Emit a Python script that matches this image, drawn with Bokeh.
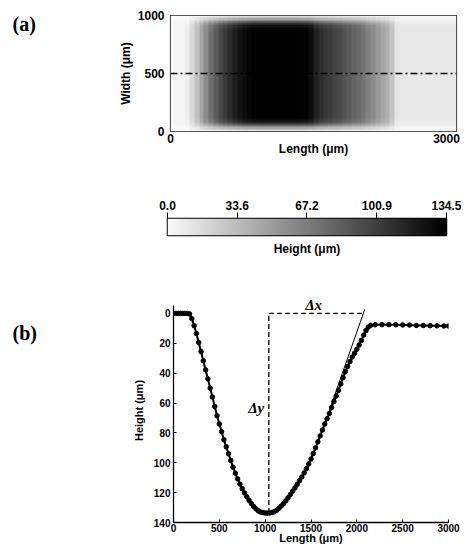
import numpy as np
from bokeh.plotting import figure
from bokeh.layouts import column, row
from bokeh.models import (Range1d, FixedTicker, LinearColorMapper, Label,
                          LinearAxis, NumeralTickFormatter)
from bokeh.palettes import Greys256
from bokeh.embed import file_html
from bokeh.resources import INLINE

# ---------------- data ----------------
# (a) height map: column darkness (height, um) every 50 um along length
map_col_start_um = list(range(0, 3000, 50))
map_col_height = [3, 3, 3, 6, 18, 31, 46, 60, 74, 85,
                  95, 103, 111, 118, 124, 128, 131, 133, 134, 134.5,
                  134.5, 134.5, 134.5, 134.5, 134.5, 134.5, 134, 133.5, 133, 128,
                  117, 110, 106, 102, 98, 95, 89, 86, 81, 78,
                  72, 65, 60, 53, 46, 40, 29, 12, 10, 10,
                  10, 10, 10, 10, 10, 10, 10, 10, 10, 10]
# relative depth across the width (rows of 20 um, bottom to top)
map_row_factor = ([0.12, 0.35, 0.6, 0.8, 0.93, 0.98] + [1.0] * 38 +
                  [0.98, 0.93, 0.8, 0.6, 0.35, 0.12])
map_length_um = 3000
map_width_um = 1000
centre_len = [0, 3000]
centre_w = [500, 500]
map_xticks = [0, 3000]
map_yticks = [0, 500, 1000]

# colour bar
height_min = 0.0
height_max = 134.5
cbar_ticks = [0.0, 33.6, 67.2, 100.9, 134.5]

# (b) centre-line profile
profile_len = [0, 25, 50, 75, 100, 125, 150, 175,
               200, 225, 250, 275, 300, 325, 350, 375, 400, 425,
               450, 475, 500, 525, 550, 575, 600, 625, 650, 675,
               700, 725, 750, 775, 800, 825, 850, 875, 900, 925,
               950, 975, 1000, 1025, 1050, 1075, 1100, 1125, 1150, 1175,
               1200, 1225, 1250, 1275, 1300, 1325, 1350, 1375, 1400, 1425,
               1450, 1475, 1500, 1525, 1550, 1575, 1600, 1625, 1650, 1675,
               1700, 1725, 1750, 1775, 1800, 1825, 1850, 1875, 1900, 1925,
               1950, 1975, 2000, 2025, 2050, 2075, 2100, 2125, 2150,
               2200, 2275, 2350, 2425, 2500, 2575, 2650, 2725, 2800, 2875, 2950, 3000]
profile_h = [0, 0, 0, 0, 0, 0, 0, 0.3,
             3.5, 8.2, 13.5, 19.5, 25.5, 31.7, 37.8, 43.8, 50, 56,
             62.3, 68.5, 74, 79.2, 84.6, 89.3, 94, 98.4, 103, 107,
             110.8, 114.3, 117.4, 120.2, 122.8, 125.2, 127.4, 129.3, 130.9, 132.2,
             133.0, 133.4, 133.6, 133.7, 133.6, 133.3, 132.7, 131.8, 130.5, 129.0,
             127.4, 125.5, 123.4, 121.2, 119, 116.8, 114.4, 112, 109.5, 106.8,
             104, 100.8, 97.4, 93.8, 90, 86, 82, 78, 74, 70.5,
             67, 63, 59, 55.3, 51.5, 47.2, 43, 39, 35.5, 32.2,
             29.2, 26.6, 24, 21.2, 18, 14.5, 11.5, 9.2, 8.0,
             7.6, 7.5, 7.5, 7.6, 7.7, 7.8, 8.0, 8.1, 8.2, 8.3, 8.4, 8.4]
dy_len = [1040, 1040]
dy_h = [133.6, 0]
dx_len = [1040, 2085]
dx_h = [0, 0]
tan_len = [1700, 2085]
tan_h = [65, -2.5]
prof_xticks = [0, 500, 1000, 1500, 2000, 2500, 3000]
prof_yticks = [0, 20, 40, 60, 80, 100, 120, 140]

# ---------------- styling ----------------
SANS = "Liberation Sans"
SERIF = "Liberation Serif"
palette = list(reversed(Greys256))[5:]
mapper = LinearColorMapper(palette=palette, low=height_min, high=height_max)


def style_axis(ax, tick_size, label_size):
    ax.major_label_text_font = SANS
    ax.major_label_text_font_style = "bold"
    ax.major_label_text_font_size = tick_size
    ax.major_label_text_color = "black"
    ax.axis_label_text_font = SANS
    ax.axis_label_text_font_style = "bold"
    ax.axis_label_text_font_size = label_size
    ax.axis_label_text_color = "black"
    ax.minor_tick_line_color = None
    ax.minor_tick_in = 0
    ax.minor_tick_out = 0


def panel_tag(text, height, y_from_top):
    f = figure(title=None, width=60, height=height, output_backend="svg",
               toolbar_location=None, x_range=Range1d(0, 60),
               y_range=Range1d(0, height), x_axis_location=None,
               y_axis_location=None, min_border=0)
    f.grid.visible = False
    f.outline_line_color = None
    f.add_layout(Label(x=12, y=height - y_from_top, text=text,
                       text_align="left", text_baseline="middle",
                       text_font=SERIF, text_font_style="bold",
                       text_font_size="20px", text_color="black"))
    return f


# ---------------- (a) height map ----------------
pa = figure(title=None, width=404, height=158, output_backend="svg",
            toolbar_location=None,
            x_range=Range1d(0, map_length_um), y_range=Range1d(0, map_width_um),
            x_axis_location=None,
            min_border_left=110, min_border_right=8, min_border_top=15,
            min_border_bottom=27)
img = np.outer(np.array(map_row_factor), np.array(map_col_height))
pa.image(image=[img], x=0, y=0, dw=map_length_um, dh=map_width_um,
         color_mapper=mapper)
pa.line(centre_len, centre_w, line_color="black", line_width=1.3,
        line_dash="7 3 2 3")
pa.grid.visible = False
pa.outline_line_color = "#222222"
pa.outline_line_width = 1.2
# tick labels of the map sit inside the frame edges, as in the original
pa.extra_x_ranges = {"lab": Range1d(0, map_length_um * 286 / 276)}
xa = LinearAxis(x_range_name="lab", ticker=FixedTicker(ticks=map_xticks),
                axis_label="Length (μm)")
pa.add_layout(xa, "below")
for ax in (xa, pa.yaxis[0]):
    style_axis(ax, "12px", "12px")
    ax.axis_line_color = None
    ax.major_tick_line_color = None
    ax.major_tick_in = 0
    ax.major_tick_out = 0
xa.major_label_standoff = 2
xa.axis_label_standoff = -4
pa.yaxis.ticker = FixedTicker(ticks=map_yticks)
pa.yaxis.major_label_standoff = 6
pa.yaxis.axis_label = "Width (μm)"
pa.yaxis.axis_label_standoff = 2

# ---------------- colour bar ----------------
pc = figure(title=None, width=464, height=100, output_backend="svg",
            toolbar_location=None,
            x_range=Range1d(height_min, height_max), y_range=Range1d(0, 1),
            x_axis_location="above", y_axis_location=None,
            min_border_left=167, min_border_right=18, min_border_top=60,
            min_border_bottom=23)
grad = np.linspace(height_min, height_max, 256).reshape(1, -1)
pc.image(image=[grad], x=height_min, y=0, dw=height_max - height_min, dh=1,
         color_mapper=mapper)
pc.grid.visible = False
pc.outline_line_color = "black"
pc.outline_line_width = 1.5
style_axis(pc.xaxis[0], "12px", "12px")
pc.xaxis.ticker = FixedTicker(ticks=cbar_ticks)
pc.xaxis.formatter = NumeralTickFormatter(format="0.0")
pc.xaxis.major_tick_in = 0
pc.xaxis.major_tick_out = 6
pc.xaxis.major_tick_line_color = "black"
pc.xaxis.axis_line_color = None
pc.xaxis.major_label_standoff = 3
cb_title_axis = LinearAxis(ticker=FixedTicker(ticks=[]), axis_label="Height (μm)",
                           axis_line_color=None, major_tick_line_color=None,
                           major_tick_in=0, major_tick_out=0,
                           axis_label_standoff=6, major_label_standoff=0)
style_axis(cb_title_axis, "12px", "12px")
pc.add_layout(cb_title_axis, "below")

# ---------------- (b) profile ----------------
pb = figure(title=None, width=404, height=293, output_backend="svg",
            toolbar_location=None,
            x_range=Range1d(0, 3000), y_range=Range1d(140, -10),
            min_border_left=113, min_border_right=16, min_border_top=40,
            min_border_bottom=29)
pb.line(profile_len, profile_h, line_color="black", line_width=2)
pb.scatter(profile_len, profile_h, size=4.5, color="black")
pb.line(dy_len, dy_h, line_color="black", line_width=1.3, line_dash="5 3")
pb.line(dx_len, dx_h, line_color="black", line_width=1.3, line_dash="5 3")
pb.line(tan_len, tan_h, line_color="black", line_width=1)
pb.grid.visible = False
pb.outline_line_color = None
for ax in (pb.xaxis[0], pb.yaxis[0]):
    style_axis(ax, "10px", "11px")
    ax.axis_line_color = "black"
    ax.axis_line_width = 1.3
    ax.major_tick_line_color = "black"
    ax.major_tick_in = 3
    ax.major_tick_out = 0
pb.xaxis.ticker = FixedTicker(ticks=prof_xticks)
pb.xaxis.major_label_standoff = 1
pb.xaxis.axis_label = "Length (μm)"
pb.xaxis.axis_label_standoff = -3
pb.yaxis.ticker = FixedTicker(ticks=prof_yticks)
pb.yaxis.bounds = (-5.2, 140)
pb.yaxis.major_label_standoff = 3
pb.yaxis.axis_label = "Height (μm)"
pb.yaxis.axis_label_standoff = 6
pb.add_layout(Label(x=1529, y=-5.5, text="Δx", text_align="center",
                    text_baseline="middle", text_font=SERIF,
                    text_font_style="bold italic", text_font_size="15px",
                    text_color="black"))
pb.add_layout(Label(x=990, y=63, text="Δy", text_align="right",
                    text_baseline="middle", text_font=SERIF,
                    text_font_style="bold italic", text_font_size="15px",
                    text_color="black"))

la = panel_tag("(a)", 158, 11)
lb = panel_tag("(b)", 293, 45)

layout = column(row(la, pa, spacing=0), pc, row(lb, pb, spacing=0), spacing=0)
open("out.html", "w").write(file_html(layout, INLINE))
